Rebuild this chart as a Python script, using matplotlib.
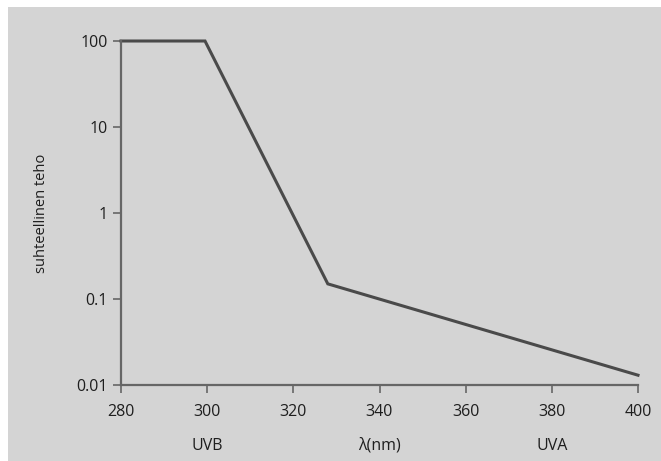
import matplotlib.pyplot as plt
from matplotlib.patches import Rectangle

# spectrum (relative power vs wavelength)
wavelength = [280, 299.5, 328, 400]
power = [100, 100, 0.15, 0.013]

xticks = [280, 300, 320, 340, 360, 380, 400]
yticks = [0.01, 0.1, 1, 10, 100]
yticklabels = ['0.01', '0.1', '1', '10', '100']
band_labels = [(300, 'UVB'), (340, 'λ(nm)'), (380, 'UVA')]

plt.rcParams['font.family'] = ['Open Sans', 'DejaVu Sans']
bg = '#d4d4d4'
axis_col = '#666666'

fig = plt.figure(figsize=(6.61, 4.61), dpi=100)
fig.patch.set_facecolor('white')
fig.patches.append(Rectangle((8 / 661, 0), 1, 1 - 7 / 461, transform=fig.transFigure,
                             facecolor=bg, edgecolor='none', zorder=-10))

ax = fig.add_axes([121 / 661, 1 - 385 / 461, 517 / 661, 344 / 461])
ax.set_facecolor(bg)
ax.plot(wavelength, power, color='#4a4a4a', lw=2.2, clip_on=False, solid_joinstyle='miter')
ax.set_yscale('log')
ax.set_xlim(280, 400)
ax.set_ylim(0.01, 100)
ax.set_xticks(xticks)
ax.set_yticks(yticks)
ax.set_yticklabels(yticklabels)
ax.minorticks_off()
for s in ['top', 'right']:
    ax.spines[s].set_visible(False)
for s in ['left', 'bottom']:
    ax.spines[s].set_color(axis_col)
    ax.spines[s].set_linewidth(1.6)
ax.tick_params(direction='out', length=6, width=1.2, color=axis_col,
               labelsize=11.5, labelcolor='#1e1e1e')
ax.tick_params(axis='x', pad=8)
ax.set_ylabel('suhteellinen teho', fontsize=10.5, color='#1e1e1e', labelpad=20)

for x, t in band_labels:
    ax.text(x, -0.188, t, transform=ax.get_xaxis_transform(), ha='center', va='baseline',
            fontsize=11.5, color='#1e1e1e')

fig.savefig('out.png', dpi=100, facecolor=fig.get_facecolor())
